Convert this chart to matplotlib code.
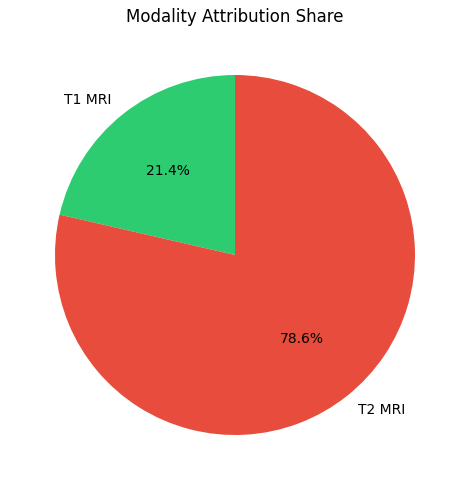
import matplotlib
matplotlib.use('Agg')
import matplotlib.pyplot as plt

labels = ['T1 MRI', 'T2 MRI']
shares = [21.4, 78.6]
colors = ['#2ecc71', '#e74c3c']

fig = plt.figure(figsize=(4.69, 4.9), dpi=100)
ax = fig.add_axes([10 / 469, 10 / 490, 450 / 469, 450 / 490])
ax.pie(shares, labels=labels, colors=colors, autopct='%1.1f%%', startangle=90)
ax.set_title('Modality Attribution Share')
plt.savefig('out.png', dpi=100)
